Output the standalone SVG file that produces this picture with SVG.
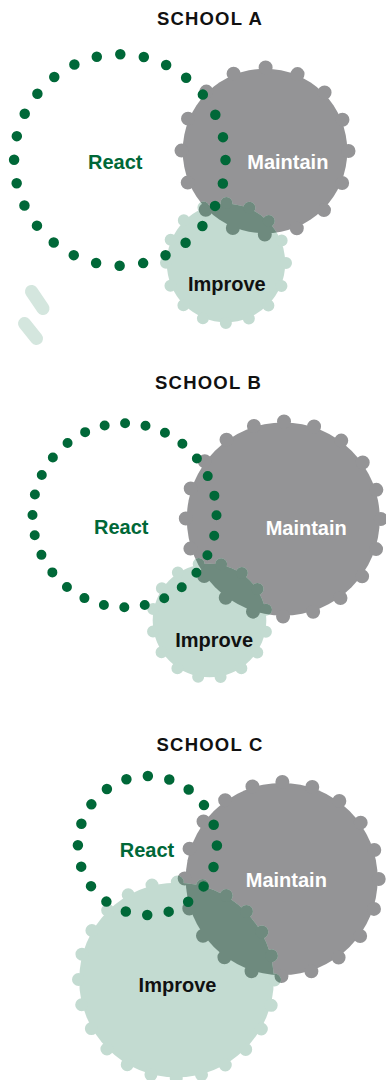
<svg xmlns="http://www.w3.org/2000/svg" xmlns:xlink="http://www.w3.org/1999/xlink" width="386" height="1080" viewBox="0 0 386 1080">
<style>
.body{fill:currentColor}
.bump{fill:none;stroke:currentColor;stroke-linecap:round}
.dots{fill:none;stroke:#006838;stroke-linecap:round}
.t{font-family:"Liberation Sans",Arial,sans-serif;font-weight:bold;text-anchor:middle}
.title{font-size:18.5px;fill:#111;letter-spacing:1.2px}
.lbl{font-size:20px}
.react{fill:#006838}
.maint{fill:#ffffff}
.impr{fill:#111111}
.gray{color:#949496}
.lg{color:#c3dbd1}
.dk{color:#6e8a7e}
.white{color:#ffffff}
</style>
<defs>
<g id="gMA"><circle class="body" cx="265" cy="151" r="82.3"/><circle class="bump" cx="265" cy="151" r="83.5" stroke-width="14" stroke-dasharray="0 32.79"/></g>
<g id="gIA"><circle class="body" cx="226" cy="263" r="59.2"/><circle class="bump" cx="226" cy="263" r="60" stroke-width="12" stroke-dasharray="0 23.56"/></g>
<g id="gMB"><circle class="body" cx="283.3" cy="519" r="96.5"/><circle class="bump" cx="283.3" cy="519" r="97.5" stroke-width="14" stroke-dasharray="0 30.63"/></g>
<g id="gIB"><circle class="body" cx="209.5" cy="620.5" r="56.8"/><circle class="bump" cx="209.5" cy="620.5" r="57.5" stroke-width="12" stroke-dasharray="0 22.58" stroke-dashoffset="11.29"/></g>
<g id="gMC"><circle class="body" cx="281.7" cy="879" r="96"/><circle class="bump" cx="281.7" cy="879" r="97" stroke-width="14" stroke-dasharray="0 30.47"/></g>
<g id="gIC"><circle class="body" cx="176.5" cy="980" r="97.3"/><circle class="bump" cx="176.5" cy="980" r="98" stroke-width="13" stroke-dasharray="0 25.66"/></g>
<mask id="mA" maskUnits="userSpaceOnUse" x="0" y="0" width="386" height="1080"><use href="#gMA" class="white"/></mask>
<mask id="mB" maskUnits="userSpaceOnUse" x="0" y="0" width="386" height="1080"><use href="#gMB" class="white"/></mask>
<mask id="mC" maskUnits="userSpaceOnUse" x="0" y="0" width="386" height="1080"><use href="#gMC" class="white"/></mask>
</defs>

<g id="schoolA">
<text id="titleA" class="t title" x="210" y="25">SCHOOL A</text>
<g id="A-maintain"><use href="#gMA" class="gray"/></g>
<g id="A-improve"><use href="#gIA" class="lg"/></g>
<g id="A-overlap"><use href="#gIA" class="dk" mask="url(#mA)"/></g>
<g id="A-react"><circle class="dots" cx="119.8" cy="160" r="105.7" stroke-width="10.5" stroke-dasharray="0 23.72"/></g>
<g id="A-dashes"><line x1="31.5" y1="291.5" x2="43" y2="308.5" stroke="#d4e6de" stroke-width="13" stroke-linecap="round"/><line x1="24.5" y1="323.5" x2="36.5" y2="338.5" stroke="#d4e6de" stroke-width="13" stroke-linecap="round"/></g>
<text class="t lbl react" x="115.2" y="169.3">React</text>
<text class="t lbl maint" x="287.8" y="169">Maintain</text>
<text class="t lbl impr" x="226.8" y="291">Improve</text>
</g>

<g id="schoolB">
<text id="titleB" class="t title" x="208.5" y="389.3">SCHOOL B</text>
<g id="B-maintain"><use href="#gMB" class="gray"/></g>
<g id="B-improve"><use href="#gIB" class="lg"/></g>
<g id="B-overlap"><use href="#gIB" class="dk" mask="url(#mB)"/></g>
<g id="B-react"><circle class="dots" cx="124.5" cy="515.3" r="92" stroke-width="10" stroke-dasharray="0 20.64"/></g>
<text class="t lbl react" x="121.3" y="534">React</text>
<text class="t lbl maint" x="306.2" y="535">Maintain</text>
<text class="t lbl impr" x="214.2" y="646.7">Improve</text>
</g>

<g id="schoolC">
<text id="titleC" class="t title" x="210" y="750.7">SCHOOL C</text>
<g id="C-maintain"><use href="#gMC" class="gray"/></g>
<g id="C-improve"><use href="#gIC" class="lg"/></g>
<g id="C-overlap"><use href="#gIC" class="dk" mask="url(#mC)"/></g>
<g id="C-react"><circle class="dots" cx="147.4" cy="845.5" r="69.5" stroke-width="10.5" stroke-dasharray="0 21.83"/></g>
<text class="t lbl react" x="147" y="857.3">React</text>
<text class="t lbl maint" x="286.3" y="887.3">Maintain</text>
<text class="t lbl impr" x="177.5" y="992.3">Improve</text>
</g>
</svg>
